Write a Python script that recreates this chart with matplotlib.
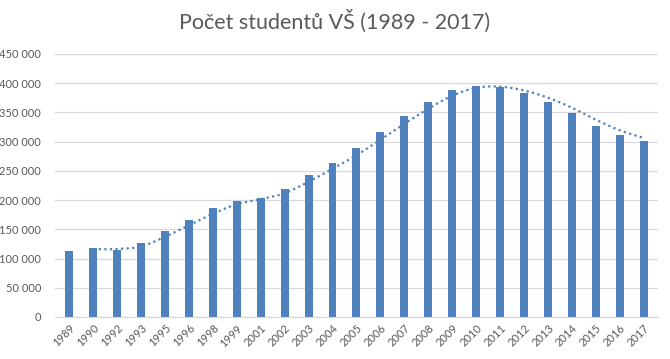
import numpy as np
import matplotlib.pyplot as plt
from matplotlib.ticker import FuncFormatter

# Data
years = ['1989', '1990', '1992', '1993', '1995', '1996', '1998', '1999', '2001',
         '2002', '2003', '2004', '2005', '2006', '2007', '2008', '2009', '2010',
         '2011', '2012', '2013', '2014', '2015', '2016', '2017']
students = [113300, 118500, 114000, 127000, 147500, 166300, 186800, 198800, 204000,
            219300, 243200, 263800, 289400, 316700, 344000, 368000, 388500, 395300,
            392500, 382200, 368000, 348000, 327000, 311600, 300800]

bar_color = '#4f81bd'
text_color = '#595959'
grid_color = '#d9d9d9'

plt.rcParams['font.family'] = ['Lato', 'DejaVu Sans']

fig = plt.figure(figsize=(6.7, 3.59), dpi=100)
ax = fig.add_axes([0.082, 0.117, 0.9, 0.733])

x = np.arange(len(years))
ax.bar(x, students, width=0.33, color=bar_color, zorder=3)

# Moving average trend line (period 2), smoothed like Excel
vals = np.array(students, dtype=float)
ma = (vals[1:] + vals[:-1]) / 2
mx = x[1:].astype(float)


def catmull_rom(px, py, n=20):
    px = np.concatenate([[2 * px[0] - px[1]], px, [2 * px[-1] - px[-2]]])
    py = np.concatenate([[2 * py[0] - py[1]], py, [2 * py[-1] - py[-2]]])
    outx, outy = [], []
    t = np.linspace(0, 1, n, endpoint=False)
    for i in range(1, len(px) - 2):
        for arr, out in ((px, outx), (py, outy)):
            p0, p1, p2, p3 = arr[i - 1], arr[i], arr[i + 1], arr[i + 2]
            out.extend(0.5 * ((2 * p1) + (-p0 + p2) * t
                              + (2 * p0 - 5 * p1 + 4 * p2 - p3) * t ** 2
                              + (-p0 + 3 * p1 - 3 * p2 + p3) * t ** 3))
    outx.append(px[-2])
    outy.append(py[-2])
    return np.array(outx), np.array(outy)


sx, sy = catmull_rom(mx, ma)
ax.plot(sx, sy, color=bar_color, linestyle=(0, (1, 1.5)), linewidth=1.6, zorder=4)

ax.set_ylim(0, 450000)
ax.set_xlim(-0.6, len(years) - 0.4)
ax.set_yticks(np.arange(0, 450001, 50000))
ax.yaxis.set_major_formatter(FuncFormatter(lambda v, p: f'{int(v):,}'.replace(',', ' ')))
ax.set_xticks(x)
ax.set_xticklabels(years, rotation=45, ha='right', rotation_mode='anchor')

ax.grid(axis='y', color=grid_color, linewidth=0.9, zorder=0)
for side in ['top', 'right', 'left']:
    ax.spines[side].set_visible(False)
ax.spines['bottom'].set_color(grid_color)
ax.tick_params(axis='both', length=0, colors=text_color, labelsize=8)
ax.tick_params(axis='y', pad=10)
ax.tick_params(axis='x', pad=4)

fig.text(0.5, 0.94, 'Počet studentů VŠ (1989 - 2017)', ha='center', va='center',
         fontsize=15.5, color=text_color)

plt.savefig('out.png', dpi=100)
